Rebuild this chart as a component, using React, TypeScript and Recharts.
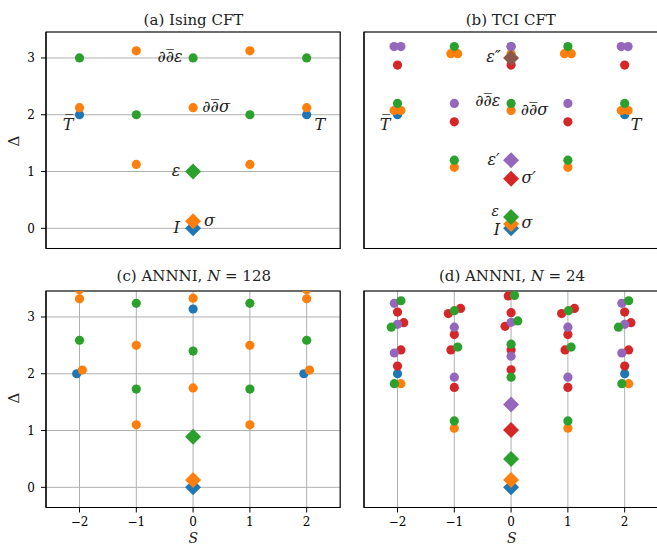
import React from 'react';
import { ScatterChart, Scatter, XAxis, YAxis, CartesianGrid, ReferenceArea } from 'recharts';

const spinTicks = [-2, -1, 0, 1, 2];
const deltaTicks = [0, 1, 2, 3];

type P = { s: number; d: number };
type L = { s: number; d: number; text: string; size?: number };
const p = (s: number, d: number): P => ({ s, d });

// (a) Ising CFT
const aBluePrimary = [p(0, 0)];
const aBlue = [p(-2, 2), p(2, 2)];
const aOrangePrimary = [p(0, 0.125)];
const aOrange = [p(-1, 1.125), p(1, 1.125), p(-2, 2.125), p(0, 2.125), p(2, 2.125), p(-1, 3.125), p(1, 3.125)];
const aGreenPrimary = [p(0, 1)];
const aGreen = [p(-1, 2), p(1, 2), p(-2, 3), p(0, 3), p(2, 3)];
const aLabels: L[] = [
  { s: -0.29, d: -0.08, text: 'I' },
  { s: 0.29, d: 0.035, text: 'σ' },
  { s: -0.3, d: 0.915, text: 'ε' },
  { s: 0.405, d: 2.05, text: '∂∂\u0305σ' },
  { s: -0.405, d: 2.92, text: '∂∂\u0305ε' },
  { s: -2.2, d: 1.725, text: 'T\u0305' },
  { s: 2.23, d: 1.725, text: 'T' },
];

// (b) TCI CFT
const bBluePrimary = [p(0, 0)];
const bBlue = [p(-2, 2), p(2, 2)];
const bOrangePrimary = [p(0, 0.075)];
const bOrange = [p(-1, 1.075), p(1, 1.075), p(-2.06, 2.075), p(-1.94, 2.075), p(0, 2.075), p(1.94, 2.075), p(2.06, 2.075),
  p(-1.06, 3.075), p(-0.94, 3.075), p(0, 3.075), p(0.94, 3.075), p(1.06, 3.075)];
const bGreenPrimary = [p(0, 0.2)];
const bGreen = [p(-1, 1.2), p(1, 1.2), p(-2, 2.2), p(0, 2.2), p(2, 2.2), p(-1, 3.2), p(1, 3.2), p(0, 3.2)];
const bRedPrimary = [p(0, 0.875)];
const bRed = [p(-1, 1.875), p(1, 1.875), p(-2, 2.875), p(0, 2.875), p(2, 2.875)];
const bPurplePrimary = [p(0, 1.2)];
const bPurple = [p(-1, 2.2), p(1, 2.2), p(-2.06, 3.2), p(-1.94, 3.2), p(0, 3.2), p(1.94, 3.2), p(2.06, 3.2)];
const bBrownPrimary = [p(0, 3)];
const bLabels: L[] = [
  { s: -0.25, d: -0.12, text: 'I' },
  { s: 0.28, d: 0.0, text: 'σ' },
  { s: -0.28, d: 0.225, text: 'ε', size: 14 },
  { s: 0.31, d: 0.79, text: 'σ′' },
  { s: -0.31, d: 1.12, text: 'ε′' },
  { s: 0.41, d: 2.0, text: '∂∂\u0305σ' },
  { s: -0.41, d: 2.16, text: '∂∂\u0305ε' },
  { s: -0.31, d: 2.92, text: 'ε″' },
  { s: -2.22, d: 1.725, text: 'T\u0305' },
  { s: 2.2, d: 1.725, text: 'T' },
];

// (c) ANNNI, N = 128
const cBluePrimary = [p(0, 0)];
const cBlue = [p(-2.05, 2), p(1.95, 2), p(0, 3.14)];
const cOrangePrimary = [p(0, 0.13)];
const cOrange = [p(-1, 1.1), p(1, 1.1), p(0, 1.75), p(-1, 2.5), p(1, 2.5), p(-1.95, 2.065), p(2.05, 2.065),
  p(-2, 3.32), p(0, 3.33), p(2, 3.32), p(-2, 3.48), p(2, 3.48)];
const cGreenPrimary = [p(0, 0.89)];
const cGreen = [p(-1, 1.73), p(1, 1.73), p(0, 2.4), p(-2, 2.59), p(2, 2.59), p(-1, 3.24), p(1, 3.24)];

// (d) ANNNI, N = 24
const dBluePrimary = [p(0, 0)];
const dBlue = [p(-2, 2), p(2, 2)];
const dOrangePrimary = [p(0, 0.13)];
const dOrange = [p(-1, 1.04), p(1, 1.04), p(-1.94, 1.825), p(2.07, 1.825)];
const dGreenPrimary = [p(0, 0.5)];
const dGreen = [p(-1, 1.17), p(1, 1.17), p(-2.056, 1.825), p(1.95, 1.825), p(0, 1.94), p(0, 2.52), p(-0.94, 2.47), p(1.057, 2.47),
  p(-2.11, 2.82), p(1.89, 2.82), p(0.118, 2.93), p(-1, 3.11), p(1.01, 3.11), p(-1.94, 3.285), p(2.07, 3.285), p(0.06, 3.38)];
const dRedPrimary = [p(0, 1.01)];
const dRed = [p(-1, 1.76), p(1, 1.76), p(0, 2.07), p(-2, 2.135), p(2, 2.135), p(0, 2.42), p(-1.06, 2.42), p(0.95, 2.42),
  p(-1.94, 2.42), p(2.07, 2.42), p(-1, 2.69), p(1, 2.69), p(-0.106, 2.835), p(-1.89, 2.9), p(2.11, 2.9), p(0, 3.075),
  p(-2, 3.086), p(2, 3.086), p(-1.105, 3.06), p(0.89, 3.06), p(-0.89, 3.15), p(1.115, 3.15), p(-0.05, 3.37)];
const dPurplePrimary = [p(0, 1.46)];
const dPurple = [p(-1, 1.94), p(1, 1.94), p(0, 2.31), p(-2.056, 2.365), p(1.95, 2.365), p(-1, 2.82), p(1, 2.82),
  p(-2, 2.87), p(2, 2.87), p(0, 2.905), p(-2.056, 3.24), p(1.95, 3.24)];

const C = {
  blue: '#1f77b4', orange: '#ff7f0e', green: '#2ca02c', red: '#d62728', purple: '#9467bd', brown: '#8c564b',
};

type Series = { data: P[]; color: string; diamond?: boolean };

const seriesA: Series[] = [
  { data: aBluePrimary, color: C.blue, diamond: true }, { data: aBlue, color: C.blue },
  { data: aOrangePrimary, color: C.orange, diamond: true }, { data: aOrange, color: C.orange },
  { data: aGreenPrimary, color: C.green, diamond: true }, { data: aGreen, color: C.green },
];
const seriesB: Series[] = [
  { data: bBluePrimary, color: C.blue, diamond: true }, { data: bBlue, color: C.blue },
  { data: bOrangePrimary, color: C.orange, diamond: true }, { data: bOrange, color: C.orange },
  { data: bGreenPrimary, color: C.green, diamond: true }, { data: bGreen, color: C.green },
  { data: bRedPrimary, color: C.red, diamond: true }, { data: bRed, color: C.red },
  { data: bPurplePrimary, color: C.purple, diamond: true }, { data: bPurple, color: C.purple },
  { data: bBrownPrimary, color: C.brown, diamond: true },
];
const seriesC: Series[] = [
  { data: cBluePrimary, color: C.blue, diamond: true }, { data: cBlue, color: C.blue },
  { data: cOrangePrimary, color: C.orange, diamond: true }, { data: cOrange, color: C.orange },
  { data: cGreenPrimary, color: C.green, diamond: true }, { data: cGreen, color: C.green },
];
const seriesD: Series[] = [
  { data: dBluePrimary, color: C.blue, diamond: true }, { data: dBlue, color: C.blue },
  { data: dOrangePrimary, color: C.orange, diamond: true }, { data: dOrange, color: C.orange },
  { data: dGreenPrimary, color: C.green, diamond: true },
  { data: dRedPrimary, color: C.red, diamond: true }, { data: dRed, color: C.red },
  { data: dPurplePrimary, color: C.purple, diamond: true }, { data: dPurple, color: C.purple },
  { data: dGreen, color: C.green },
];

const FONT = "'DejaVu Serif', serif";
const fmt = (v: number) => (v < 0 ? `\u2212${-v}` : `${v}`);

const PW = 294.2;
const PH = 216.5;
const YW = 46;
const MT = 8;
const MR = 6;
const XH = 40;
const XDOM: [number, number] = [-2.59, 2.59];
const YDOM: [number, number] = [-0.355, 3.457];

function Panel(props: { left: number; top: number; series: Series[]; labels?: L[]; xLabels: boolean; yLabels: boolean; id: string }) {
  const { left, top, series, labels, xLabels, yLabels, id } = props;
  const tickStyle = { fontSize: 12, fontFamily: FONT, fill: '#000' };
  return (
    <div style={{ position: 'absolute', left: left - YW, top: top - MT }}>
      <ScatterChart id={id} width={YW + PW + MR} height={MT + PH + XH} margin={{ top: MT, right: MR, bottom: 0, left: 0 }}>
        <CartesianGrid stroke="#b0b0b0" strokeWidth={1} />
        <XAxis type="number" dataKey="s" domain={XDOM} ticks={spinTicks} allowDataOverflow interval={0}
          height={XH} tickSize={5} tickMargin={4.5} stroke="#000" tickFormatter={fmt}
          tick={xLabels ? tickStyle : false} />
        <YAxis type="number" dataKey="d" domain={YDOM} ticks={deltaTicks} allowDataOverflow interval={0}
          width={YW} tickSize={5} tickMargin={6} stroke="#000" tickFormatter={fmt}
          tick={yLabels ? tickStyle : false} />
        {series.map((se, i) => (
          <Scatter key={i} data={se.data} isAnimationActive={false}
            shape={(sp: any) => se.diamond ? (
              <polygon points={`${sp.cx},${sp.cy - 8} ${sp.cx + 8},${sp.cy} ${sp.cx},${sp.cy + 8} ${sp.cx - 8},${sp.cy}`} fill={se.color} />
            ) : (
              <circle cx={sp.cx} cy={sp.cy} r={4.6} fill={se.color} />
            )} />
        ))}
        {labels && (
          <Scatter data={labels} isAnimationActive={false}
            shape={(sp: any) => {
              const item = sp.payload ?? sp;
              return (
                <text x={sp.cx} y={sp.cy} textAnchor="middle" fontFamily={FONT} fontStyle="italic" fontSize={item.size ?? 16} fill="#222">
                  {item.text}
                </text>
              );
            }} />
        )}
        <ReferenceArea x1={XDOM[0]} x2={XDOM[1]} y1={YDOM[0]} y2={YDOM[1]} ifOverflow="visible"
          fill="none" fillOpacity={0} stroke="#000" strokeWidth={1.1} strokeOpacity={1} />
      </ScatterChart>
    </div>
  );
}

export default function App() {
  return (
    <div style={{ position: 'fixed', left: 0, top: 0, width: 657, height: 546, overflow: 'hidden', background: '#fff' }}>
      <Panel id="pa" left={46} top={32.3} series={seriesA} labels={aLabels} xLabels={false} yLabels={true} />
      <Panel id="pb" left={364.3} top={32.3} series={seriesB} labels={bLabels} xLabels={false} yLabels={false} />
      <Panel id="pc" left={46} top={291} series={seriesC} xLabels={true} yLabels={true} />
      <Panel id="pd" left={364.3} top={291} series={seriesD} xLabels={true} yLabels={false} />
      <svg width={657} height={546} style={{ position: 'absolute', left: 0, top: 0, pointerEvents: 'none' }}>
        <g fontFamily={FONT} fontSize={15} fill="#222">
          <text x={193.5} y={24.5} textAnchor="middle">(a) Ising CFT</text>
          <text x={510.8} y={24.5} textAnchor="middle">(b) TCI CFT</text>
          <text x={193.8} y={281} textAnchor="middle">(c) ANNNI, <tspan fontStyle="italic">N</tspan> = 128</text>
          <text x={512} y={281} textAnchor="middle">(d) ANNNI, <tspan fontStyle="italic">N</tspan> = 24</text>
          <text x={14} y={141} textAnchor="middle" dominantBaseline="central" transform="rotate(-90 14 141)">Δ</text>
          <text x={14} y={398} textAnchor="middle" dominantBaseline="central" transform="rotate(-90 14 398)">Δ</text>
          <text x={193.3} y={542.5} textAnchor="middle" fontStyle="italic" fontSize={14}>S</text>
          <text x={511.7} y={542.5} textAnchor="middle" fontStyle="italic" fontSize={14}>S</text>
        </g>
      </svg>
    </div>
  );
}
